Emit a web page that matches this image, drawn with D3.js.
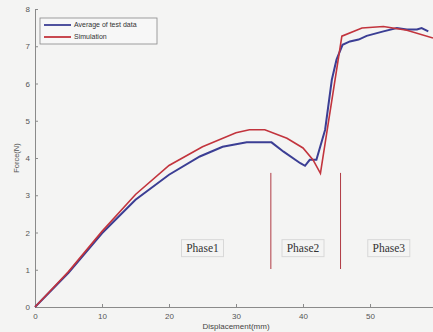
<!DOCTYPE html>
<html>
<head>
<meta charset="utf-8">
<script src="https://cdn.jsdelivr.net/npm/d3@7"></script>
<style>
  body { margin: 0; background: #f4f4f3; }
  svg { display: block; }
</style>
</head>
<body>
<div id="chart"></div>
<script>
// values
var testX = [0, 5, 10, 15, 20, 24.6, 28, 31.6, 35.3, 37.1, 39.6, 40.3, 41, 42, 43.3, 44.3, 45, 45.9, 47, 48.3, 49.5, 52, 54, 55.5, 57, 57.7, 58.7]
var testY = [0, 0.92, 1.98, 2.88, 3.55, 4.04, 4.3, 4.42, 4.42, 4.17, 3.86, 3.79, 3.95, 3.95, 4.76, 6.1, 6.64, 7.04, 7.13, 7.18, 7.28, 7.4, 7.49, 7.45, 7.45, 7.49, 7.4]
var simX = [0, 5, 10, 15, 20, 25, 30, 32, 34.3, 37.6, 40, 41.5, 42.6, 45.8, 48.8, 52, 55.5, 59.4]
var simY = [0, 0.95, 2.03, 3.02, 3.8, 4.3, 4.68, 4.76, 4.76, 4.53, 4.27, 3.95, 3.59, 7.27, 7.49, 7.53, 7.43, 7.22]
var xTicks = [0, 10, 20, 30, 40, 50]
var yTicks = [0, 1, 2, 3, 4, 5, 6, 7, 8]
var phaseLines = [35.2, 45.6]
var phaseNames = ["Phase1", "Phase2", "Phase3"]
var phaseX = [25, 40, 52.8]
var seriesNames = ["Average of test data", "Simulation"]

var width = 433, height = 332
var margin = {top: 9, right: 0, bottom: 25, left: 35}

var svg = d3.select("#chart").append("svg")
    .attr("width", width)
    .attr("height", height)

var x = d3.scaleLinear().domain([0, 59.4]).range([margin.left, width - margin.right])
var y = d3.scaleLinear().domain([0, 8]).range([height - margin.bottom, margin.top])

var tickColor = "#8a8a8a"

svg.append("g")
    .attr("transform", "translate(0," + y(0) + ")")
    .call(d3.axisBottom(x).tickValues(xTicks).tickSize(-3).tickPadding(6))
svg.append("g")
    .attr("transform", "translate(" + x(0) + ",0)")
    .call(d3.axisLeft(y).tickValues(yTicks).tickSize(-3).tickPadding(5))

svg.selectAll(".domain").attr("stroke", tickColor)
svg.selectAll(".tick line").attr("stroke", tickColor)
svg.selectAll(".tick text")
    .attr("fill", "#555")
    .style("font-family", "Liberation Sans, Arial, sans-serif")
    .style("font-size", "8px")

svg.append("text")
    .attr("x", x(30))
    .attr("y", 329)
    .attr("text-anchor", "middle")
    .attr("fill", "#444")
    .style("font-family", "Liberation Sans, Arial, sans-serif")
    .style("font-size", "8px")
    .text("Displacement(mm)")

svg.append("text")
    .attr("transform", "translate(19," + y(4) + ") rotate(-90)")
    .attr("text-anchor", "middle")
    .attr("fill", "#555")
    .style("font-family", "Liberation Sans, Arial, sans-serif")
    .style("font-size", "7.5px")
    .text("Force(N)")

// phase separators
svg.selectAll(".phase-line")
    .data(phaseLines)
    .enter().append("line")
    .attr("x1", function(d) { return x(d) })
    .attr("x2", function(d) { return x(d) })
    .attr("y1", y(3.6))
    .attr("y2", y(1.02))
    .attr("stroke", "#b03a44")
    .attr("stroke-width", 1)

var labels = svg.selectAll(".phase")
    .data(phaseNames)
    .enter().append("g")
    .attr("transform", function(d, i) { return "translate(" + x(phaseX[i]) + "," + y(1.58) + ")" })
labels.append("rect")
    .attr("x", -21).attr("y", -8.5)
    .attr("width", 42).attr("height", 17)
    .attr("fill", "none")
    .attr("stroke", "#d8d8d8")
labels.append("text")
    .attr("text-anchor", "middle")
    .attr("dy", "0.35em")
    .attr("fill", "#333")
    .style("font-family", "Liberation Serif, Times New Roman, serif")
    .style("font-size", "11.5px")
    .text(function(d) { return d })

var line = d3.line()
    .x(function(d) { return x(d[0]) })
    .y(function(d) { return y(d[1]) })

var testPts = testX.map(function(v, i) { return [v, testY[i]] })
var simPts = simX.map(function(v, i) { return [v, simY[i]] })

svg.append("path")
    .datum(testPts)
    .attr("fill", "none")
    .attr("stroke", "#3b3e94")
    .attr("stroke-width", 2)
    .attr("d", line)

svg.append("path")
    .datum(simPts)
    .attr("fill", "none")
    .attr("stroke", "#c2343d")
    .attr("stroke-width", 1.6)
    .attr("d", line)

// legend
var legend = svg.append("g")
legend.append("rect")
    .attr("x", 40).attr("y", 18)
    .attr("width", 117).attr("height", 26)
    .attr("fill", "#f7f7f7")
    .attr("stroke", "#888")
    .attr("stroke-width", 0.8)
var colors = ["#3b3e94", "#c2343d"]
seriesNames.forEach(function(name, i) {
    var ly = 25 + i * 12
    legend.append("line")
        .attr("x1", 44).attr("x2", 71)
        .attr("y1", ly).attr("y2", ly)
        .attr("stroke", colors[i])
        .attr("stroke-width", 1.8)
    legend.append("text")
        .attr("x", 74).attr("y", ly)
        .attr("dy", "0.35em")
        .attr("fill", "#333")
        .style("font-family", "Liberation Sans, Arial, sans-serif")
        .style("font-size", "7px")
        .text(name)
})
</script>
</body>
</html>
